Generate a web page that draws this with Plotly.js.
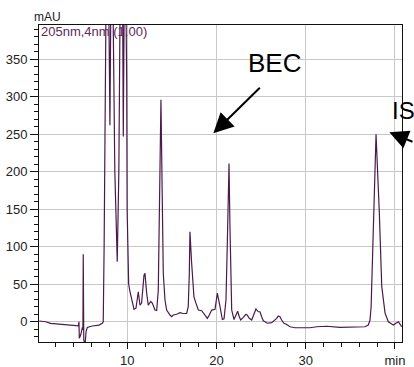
<!DOCTYPE html>
<html>
<head>
<meta charset="utf-8">
<script src="https://cdn.plot.ly/plotly-3.0.1.min.js"></script>
<style>html,body{margin:0;padding:0;background:#fff;}#chart{width:414px;height:367px;}</style>
</head>
<body>
<div id="chart"></div>
<script>
// Retention time (min)
const time = [0.13,0.85,1.4,2.34,3.46,4.39,4.52,4.58,4.62,4.77,4.88,4.97,5.02,5.06,5.12,5.25,5.38,5.51,6.07,6.82,7.2,7.3,7.4,7.5,7.65,7.85,8.05,8.2,8.4,8.6,8.87,9.05,9.25,9.45,9.55,9.68,9.85,9.93,9.98,10.03,10.07,10.15,10.3,10.6,10.75,10.97,11.1,11.23,11.42,11.6,11.87,11.98,12.17,12.35,12.62,12.8,13.1,13.29,13.47,13.62,13.77,13.9,14.03,14.22,14.41,14.78,14.97,15.15,15.53,15.9,16.27,16.65,16.83,16.95,17.02,17.2,17.35,17.47,17.7,17.96,18.34,18.71,18.97,19.19,19.46,19.83,20.09,20.39,20.65,20.84,21.06,21.2,21.4,21.5,21.59,21.7,21.96,22.18,22.37,22.55,22.71,23.0,23.3,23.45,23.67,23.94,24.2,24.42,24.68,24.87,25.06,25.24,25.43,25.69,26.18,26.44,26.74,26.92,27.11,27.3,27.56,27.86,28.24,28.8,30.48,31.23,32.35,33.84,34.96,36.08,36.64,37.01,37.2,37.33,37.42,37.58,37.88,38.25,38.52,38.89,39.26,39.64,39.82,40.2,40.38,40.76];
// Absorbance (mAU)
const mAU = [1,0,-2.2,-3.5,-4.4,-5.7,-5.5,0,-22,-17.8,-11,-7.5,-11,90,-24,-32,-13,-7.5,-5.7,-4.4,-2.2,0,100,300,480,520,262,500,420,200,80,200,520,480,247,480,420,322,149,118,60,50,40,24.5,16.5,18,29,40,22,25,62,64.5,38,22,27,25,15.6,15,42,180,296,180,65,29,15.6,9,6.7,9,10,12,11,11,20,65,120,80,55,33,24.5,15.6,14.7,9,4.5,9,15.6,16.5,38,20,3,4,29,100,211,130,64.5,15.6,3,9,14,6.7,2.3,5.8,10,8.9,4.5,2.3,9,17,13.3,13.3,6.7,1.3,0,-2,-1.3,0.9,4.5,7.6,6.7,2.3,-2,-3.6,-6.7,-8,-8,-6.7,-6,-7.5,-7,-7,-6.7,-4.4,2,20,55,145,250,145,47,11.5,0,-3,-4.4,-1.3,0,-6.7];
// Axis ticks
const xTickStep = 10, xMinorStep = 2;
const xLabelAlias = {'40': 'min'};
const yTickStep = 50, yMinorStep = 10;
// Peak labels: [text, time, mAU]
const becPeak = ['BEC', 19.64, 251.2];
const isPeak = ['IS', 39.37, 252.5];

const xRange = [0.1, 40.79];
const yRange = [-27, 395.6];
const font = 'Arial, "Liberation Sans", sans-serif';
const trace = {
  x: time, y: mAU, type: 'scatter', mode: 'lines',
  line: {color: '#4b1a4b', width: 1.2},
  hoverinfo: 'none'
};
const layout = {
  width: 414, height: 367,
  margin: {l: 39, r: 12, t: 25, b: 25, pad: 0},
  paper_bgcolor: '#fff', plot_bgcolor: '#fff',
  showlegend: false,
  font: {family: font, size: 13, color: '#222'},
  xaxis: {
    range: xRange, tickmode: 'linear', tick0: 0, dtick: xTickStep, labelalias: xLabelAlias,
    ticks: 'outside', ticklen: 6, tickcolor: '#111', tickwidth: 1,
    showline: true, linecolor: '#111', linewidth: 1, mirror: true,
    showgrid: true, gridcolor: '#c8c8c8', gridwidth: 1, zeroline: false,
    tickfont: {family: font, size: 13, color: '#222'},
    minor: {tickmode: 'linear', tick0: 0, dtick: xMinorStep, ticks: 'outside', ticklen: 4, tickcolor: '#111', tickwidth: 1, showgrid: false}
  },
  yaxis: {
    range: yRange, tickmode: 'linear', tick0: 0, dtick: yTickStep,
    ticks: 'outside', ticklen: 8, tickcolor: '#111', tickwidth: 1,
    showline: true, linecolor: '#111', linewidth: 1, mirror: true,
    showgrid: true, gridcolor: '#c8c8c8', gridwidth: 1, zeroline: false,
    tickfont: {family: font, size: 13, color: '#222'},
    minor: {tickmode: 'linear', tick0: 0, dtick: yMinorStep, ticks: 'outside', ticklen: 4, tickcolor: '#111', tickwidth: 1, showgrid: false}
  },
  annotations: [
    {text: 'mAU', xref: 'paper', yref: 'paper', x: -0.0193, y: 1.025, xanchor: 'left', yanchor: 'middle',
     showarrow: false, font: {family: font, size: 12, color: '#222'}},
    {text: '205nm,4nm (1.00)', xref: 'paper', yref: 'paper', x: 0.0, y: 0.978, xanchor: 'left', yanchor: 'middle',
     showarrow: false, font: {family: font, size: 13, color: '#5a2a5a'}},
    {text: becPeak[0], xref: 'paper', yref: 'paper', x: 0.650, y: 0.879, xanchor: 'center', yanchor: 'middle',
     showarrow: false, font: {family: font, size: 26, color: '#000'}},
    {text: '', xref: 'x', yref: 'y', x: becPeak[1], y: becPeak[2], ax: 48, ay: -47,
     showarrow: true, arrowhead: 2, arrowsize: 2, arrowwidth: 2, arrowcolor: '#000', standoff: 0},
    {text: isPeak[0], xref: 'paper', yref: 'paper', x: 0.966, y: 0.729, xanchor: 'left', yanchor: 'middle',
     showarrow: false, font: {family: font, size: 24, color: '#000'}},
    {text: '', xref: 'x', yref: 'y', x: isPeak[1], y: isPeak[2], ax: 45, ay: 10,
     showarrow: true, arrowhead: 2, arrowsize: 1.9, arrowwidth: 2, arrowcolor: '#000', standoff: 0}
  ]
};
Plotly.newPlot('chart', [trace], layout, {staticPlot: true, displayModeBar: false});
</script>
</body>
</html>
